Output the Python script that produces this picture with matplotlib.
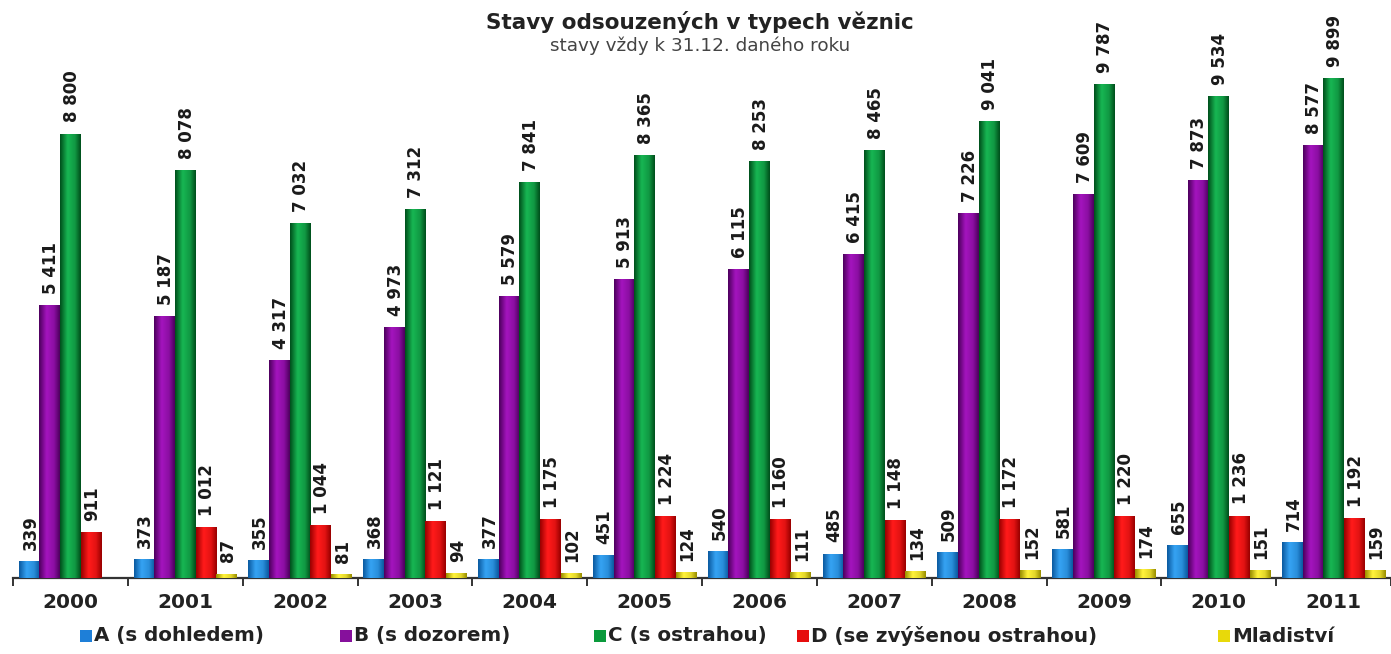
import numpy as np
import matplotlib
matplotlib.use("Agg")
import matplotlib.pyplot as plt
from matplotlib.colors import LinearSegmentedColormap
from matplotlib.patches import Rectangle

years = ["2000", "2001", "2002", "2003", "2004", "2005", "2006", "2007", "2008", "2009", "2010", "2011"]
series_names = ["A (s dohledem)", "B (s dozorem)", "C (s ostrahou)", "D (se zvýšenou ostrahou)", "Mladiství"]
a_vals = [339, 373, 355, 368, 377, 451, 540, 485, 509, 581, 655, 714]
b_vals = [5411, 5187, 4317, 4973, 5579, 5913, 6115, 6415, 7226, 7609, 7873, 8577]
c_vals = [8800, 8078, 7032, 7312, 7841, 8365, 8253, 8465, 9041, 9787, 9534, 9899]
d_vals = [911, 1012, 1044, 1121, 1175, 1224, 1160, 1148, 1172, 1220, 1236, 1192]
m_vals = [np.nan, 87, 81, 94, 102, 124, 111, 134, 152, 174, 151, 159]

all_vals = [a_vals, b_vals, c_vals, d_vals, m_vals]
# (dark edge, bright centre, legend colour)
palettes = [
    ("#0b5aa0", "#35a2f2", "#1e7fd8"),
    ("#4e005e", "#a314bd", "#86109c"),
    ("#00501c", "#17b552", "#0a9a3c"),
    ("#9a0000", "#ff1a1a", "#e60d0d"),
    ("#9a8f00", "#fff23a", "#e8d90a"),
]

fig = plt.figure(figsize=(13.91, 6.54), dpi=100)
ax = fig.add_axes([13 / 1391, 1 - 578 / 654, 1 - 13 / 1391, (578 - 60) / 654])
ymax = 9899 * 518 / 500
ax.set_ylim(0, ymax)
ax.set_xlim(-0.5, len(years) - 0.5)

x = np.arange(len(years))
width = 0.18
offsets = (np.arange(5) - 2) * width

grad = np.concatenate([np.linspace(0, 1, 12), np.linspace(1, 0.75, 10), np.linspace(0.75, 0.0, 10)])
grad = grad.reshape(1, -1)

for i, vals in enumerate(all_vals):
    dark, light, _ = palettes[i]
    cmap = LinearSegmentedColormap.from_list(f"g{i}", [dark, light])
    v = np.array(vals, dtype=float)
    bars = ax.bar(x + offsets[i], np.nan_to_num(v), width, color=light, linewidth=0, zorder=2)
    for bar, val in zip(bars, v):
        if np.isnan(val):
            bar.set_visible(False)
            continue
        x0, y0 = bar.get_x(), bar.get_y()
        w, h = bar.get_width(), bar.get_height()
        im = ax.imshow(grad, cmap=cmap, aspect="auto", extent=[x0, x0 + w, y0, y0 + h],
                       zorder=3, interpolation="bicubic")
        im.set_clip_path(bar)
        ax.annotate(f"{int(val):,}".replace(",", " "), (x0 + w / 2, y0 + h),
                    xytext=(1, 8), textcoords="offset points", rotation=90,
                    ha="center", va="bottom", fontsize=12, fontweight="bold",
                    color="#1a1a1a", annotation_clip=False)

for s in ["left", "right", "top"]:
    ax.spines[s].set_visible(False)
ax.spines["bottom"].set_color("#333333")
ax.spines["bottom"].set_linewidth(1.6)
ax.set_yticks([])
ax.set_xticks(np.arange(len(years) + 1) - 0.5, minor=True)
ax.set_xticks(x)
ax.set_xticklabels(years, fontsize=14.5, fontweight="bold", color="#222222")
ax.tick_params(axis="x", which="major", length=0, pad=11)
ax.tick_params(axis="x", which="minor", length=6, width=1.4, color="#333333", direction="out")

fig.text(0.503, 1 - 22 / 654, "Stavy odsouzených v typech věznic", ha="center", va="center",
         fontsize=15.5, fontweight="bold", color="#222222")
fig.text(0.503, 1 - 46 / 654, "stavy vždy k 31.12. daného roku", ha="center", va="center",
         fontsize=13.2, color="#444444")

legend_x = [80, 340, 594, 797, 1218]
ly = 1 - 636 / 654
for i, name in enumerate(series_names):
    fig.patches.append(Rectangle((legend_x[i] / 1391, ly - 6 / 654), 12 / 1391, 12 / 654,
                                 transform=fig.transFigure, facecolor=palettes[i][2],
                                 edgecolor="none", figure=fig))
    fig.text((legend_x[i] + 14) / 1391, ly, name, ha="left", va="center",
             fontsize=14.3, fontweight="bold", color="#222222")

fig.savefig("out.png", dpi=100, facecolor="white")
